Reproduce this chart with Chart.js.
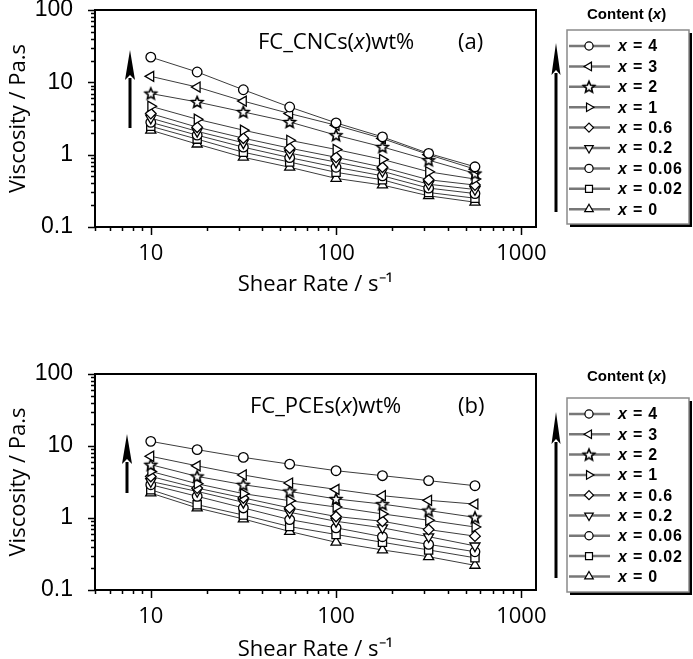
<!DOCTYPE html>
<html>
<head>
<meta charset="utf-8">
<script src="https://cdn.jsdelivr.net/npm/chart.js@4/dist/chart.umd.min.js"></script>
<style>
    html, body { margin: 0; padding: 0; background: #fff; }
    #wrap { position: relative; width: 693px; height: 659px; }
    canvas { position: absolute; left: 0; }
    #top { top: 0; }
    #bottom { top: 330px; }
</style>
</head>
<body>
<div id="wrap">
    <canvas id="top" width="693" height="330"></canvas>
    <canvas id="bottom" width="693" height="329"></canvas>
</div>
<script>
// shear rate points (s^-1)
const shearRates = [10, 17.8, 31.6, 56.2, 100, 178, 316, 562];
const contents = ["4", "3", "2", "1", "0.6", "0.2", "0.06", "0.02", "0"];
const xTickLabels = [10, 100, 1000];
const yTickLabels = [0.1, 1, 10, 100];

// (a) FC_CNCs viscosity, Pa.s
const cnc4 = [22.3, 13.9, 7.9, 4.56, 2.75, 1.76, 1.04, 0.68];
const cnc3 = [12.1, 8.6, 5.5, 3.7, 2.55, 1.67, 1.0, 0.63];
const cnc2 = [7.0, 5.35, 3.9, 2.83, 1.86, 1.28, 0.84, 0.55];
const cnc1 = [4.67, 3.09, 2.18, 1.58, 1.18, 0.86, 0.58, 0.46];
const cnc06 = [3.7, 2.4, 1.69, 1.23, 0.92, 0.67, 0.45, 0.38];
const cnc02 = [3.2, 2.1, 1.46, 1.05, 0.79, 0.59, 0.39, 0.33];
const cnc006 = [2.8, 1.86, 1.27, 0.91, 0.67, 0.51, 0.345, 0.29];
const cnc002 = [2.47, 1.64, 1.08, 0.79, 0.57, 0.45, 0.30, 0.25];
const cnc0 = [2.18, 1.4, 0.92, 0.67, 0.47, 0.38, 0.27, 0.22];

// (b) FC_PCEs viscosity, Pa.s
const pce4 = [11.6, 8.9, 6.95, 5.6, 4.54, 3.87, 3.3, 2.81];
const pce3 = [7.2, 5.3, 3.96, 3.06, 2.5, 2.04, 1.76, 1.56];
const pce2 = [5.5, 3.78, 2.9, 2.34, 1.84, 1.56, 1.27, 1.02];
const pce1 = [4.44, 2.99, 2.18, 1.74, 1.42, 1.14, 0.93, 0.75];
const pce06 = [3.78, 2.6, 1.9, 1.38, 1.05, 0.9, 0.69, 0.56];
const pce02 = [3.22, 2.34, 1.65, 1.2, 0.9, 0.73, 0.55, 0.41];
const pce006 = [2.9, 2.0, 1.38, 0.95, 0.73, 0.55, 0.43, 0.34];
const pce002 = [2.47, 1.53, 1.1, 0.76, 0.59, 0.46, 0.36, 0.28];
const pce0 = [2.22, 1.38, 0.97, 0.65, 0.46, 0.36, 0.29, 0.22];

const cncSeries = [cnc4, cnc3, cnc2, cnc1, cnc06, cnc02, cnc006, cnc002, cnc0];
const pceSeries = [pce4, pce3, pce2, pce1, pce06, pce02, pce006, pce002, pce0];

function starImage(r) {
    const c = document.createElement("canvas");
    const s = Math.ceil(r * 2 + 4);
    c.width = s;
    c.height = s;
    const g = c.getContext("2d");
    g.translate(s / 2, s / 2 + 0.5);
    g.beginPath();
    for (let i = 0; i < 10; i++) {
        const rad = i % 2 ? r * 0.45 : r;
        const a = -Math.PI / 2 + i * Math.PI / 5;
        g.lineTo(rad * Math.cos(a), rad * Math.sin(a));
    }
    g.closePath();
    g.fillStyle = "#fff";
    g.fill();
    g.lineWidth = 1.6;
    g.strokeStyle = "#000";
    g.stroke();
    return c;
}

const star = starImage(6);
const markers = [
    { style: "circle", rot: 0, r: 4.8 },
    { style: "triangle", rot: -90, r: 5.8 },
    { style: star, rot: 0, r: 6 },
    { style: "triangle", rot: 90, r: 5.8 },
    { style: "rectRot", rot: 0, r: 5.3 },
    { style: "triangle", rot: 180, r: 5.8 },
    { style: "circle", rot: 0, r: 4.8 },
    { style: "rect", rot: 0, r: 5.8 },
    { style: "triangle", rot: 0, r: 5.8 }
];

function isDecade(v) {
    const l = Math.log10(v);
    return Math.abs(l - Math.round(l)) < 1e-6;
}

function isMinor(v) {
    const s = v / Math.pow(10, Math.floor(Math.log10(v) + 1e-9));
    return Math.abs(s - Math.round(s)) < 1e-6;
}

function drawArrow(ctx, x, yBase, yTip, headLen, headW) {
    ctx.strokeStyle = "#000";
    ctx.fillStyle = "#000";
    ctx.lineWidth = 3;
    ctx.beginPath();
    ctx.moveTo(x, yBase);
    ctx.lineTo(x, yTip + headLen - 2);
    ctx.stroke();
    ctx.beginPath();
    ctx.moveTo(x, yTip);
    ctx.lineTo(x - headW / 2, yTip + headLen);
    ctx.lineTo(x, yTip + headLen - 5);
    ctx.lineTo(x + headW / 2, yTip + headLen);
    ctx.closePath();
    ctx.fill();
}

function drawMixed(ctx, parts, x, y) {
    // parts: [text, font]
    let cx = x;
    parts.forEach(([text, font]) => {
        ctx.font = font;
        ctx.fillText(text, cx, y);
        cx += ctx.measureText(text).width;
    });
}

const decor = {
    id: "decor",
    afterDraw(chart, args, o) {
        const { ctx, chartArea: a, scales: { x, y } } = chart;
        ctx.save();

        // ticks
        ctx.strokeStyle = "#000";
        ctx.lineWidth = 1.5;
        ctx.beginPath();
        x.ticks.forEach(t => {
            if (!isMinor(t.value)) return;
            const px = Math.round(x.getPixelForValue(t.value)) + 0.5;
            const len = isDecade(t.value) ? 8 : 4;
            ctx.moveTo(px, a.bottom);
            ctx.lineTo(px, a.bottom + len);
        });
        y.ticks.forEach(t => {
            if (!isMinor(t.value)) return;
            const py = Math.round(y.getPixelForValue(t.value)) + 0.5;
            const len = isDecade(t.value) ? 7 : 4;
            ctx.moveTo(a.left - len, py);
            ctx.lineTo(a.left, py);
        });
        ctx.stroke();

        // frame
        ctx.lineWidth = 2;
        ctx.strokeRect(a.left, a.top, a.right - a.left, a.bottom - a.top);

        // arrows
        drawArrow(ctx, o.arrowX, o.arrowBase, o.arrowTip, 30, 10);
        drawArrow(ctx, 556, o.legArrowBase, o.legArrowTip, 32, 9);

        // panel label
        ctx.fillStyle = "#000";
        ctx.textBaseline = "middle";
        ctx.textAlign = "left";
        drawMixed(ctx, [
            [o.name + "(", "22px 'Open Sans'"],
            ["x", "italic 22px 'Open Sans'"],
            [")wt%", "22px 'Open Sans'"]
        ], o.nameX, o.nameY);
        ctx.font = "22px 'Open Sans'";
        ctx.fillText(o.tag, 458, o.nameY);

        // legend
        const bx = 567, by = o.legTop, bw = 122, bh = o.legBottom - o.legTop;
        ctx.fillStyle = "#000";
        ctx.fillRect(bx + 3, by + 3, bw, bh);
        ctx.fillStyle = "#fff";
        ctx.fillRect(bx, by, bw, bh);
        ctx.strokeStyle = "#8a8a8a";
        ctx.lineWidth = 1.5;
        ctx.strokeRect(bx, by, bw, bh);

        ctx.fillStyle = "#000";
        ctx.textAlign = "left";
        drawMixed(ctx, [
            ["Content (", "bold 15px 'Liberation Sans'"],
            ["x", "bold italic 15px 'Liberation Sans'"],
            [")", "bold 15px 'Liberation Sans'"]
        ], 587, o.legTitleY);

        contents.forEach((c, i) => {
            const ly = o.legFirst + i * o.legStep;
            ctx.strokeStyle = "#777";
            ctx.lineWidth = 2.5;
            ctx.beginPath();
            ctx.moveTo(569, ly);
            ctx.lineTo(610, ly);
            ctx.stroke();
            const m = markers[i];
            ctx.fillStyle = "#fff";
            ctx.strokeStyle = "#000";
            ctx.lineWidth = 1.2;
            Chart.helpers.drawPoint(ctx, {
                pointStyle: m.style,
                rotation: m.rot,
                radius: m.r * 0.85,
                borderWidth: 1.2
            }, 589, ly);
            ctx.fillStyle = "#000";
            ctx.letterSpacing = "0.8px";
            drawMixed(ctx, [
                ["x", "bold italic 16px 'Liberation Sans'"],
                [" = " + c, "bold 16px 'Liberation Sans'"]
            ], 618, ly + 1);
            ctx.letterSpacing = "0px";
        });

        ctx.restore();
    }
};

function makeChart(id, series, opt) {
    const ctx = document.getElementById(id).getContext("2d");
    const datasets = series.map((vals, i) => ({
        label: "x = " + contents[i],
        data: vals.map((v, j) => ({ x: shearRates[j], y: v })),
        borderColor: "#3c3c3c",
        borderWidth: 1,
        pointStyle: markers[i].style,
        rotation: markers[i].rot,
        pointRadius: markers[i].r,
        pointBorderColor: "#000",
        pointBackgroundColor: "#fff",
        pointBorderWidth: 1.3,
        tension: 0
    }));

    return new Chart(ctx, {
        type: "line",
        data: { datasets: datasets },
        options: {
            responsive: false,
            animation: false,
            layout: { padding: { left: 0, right: 157, top: opt.plotTop, bottom: 0 } },
            plugins: {
                legend: { display: false },
                tooltip: { enabled: false },
                decor: opt
            },
            scales: {
                x: {
                    type: "logarithmic",
                    min: 5,
                    max: 1200,
                    afterFit(s) {
                        s.height = opt.xHeight;
                        s.paddingLeft = 0;
                        s.paddingRight = 0;
                    },
                    grid: { display: false },
                    border: { display: false },
                    ticks: {
                        autoSkip: false,
                        maxRotation: 0,
                        padding: 6,
                        color: "#000",
                        font: { family: "Open Sans", size: 22 },
                        callback: v => xTickLabels.some(t => Math.abs(t - v) < 1e-6) ? String(v) : ""
                    },
                    title: {
                        display: true,
                        text: "Shear Rate / s\u207B\u00B9",
                        color: "#000",
                        font: { family: "Open Sans", size: 22, lineHeight: 0.8 },
                        padding: { top: 0, bottom: opt.xTitlePad }
                    }
                },
                y: {
                    type: "logarithmic",
                    min: 0.1,
                    max: 100,
                    afterFit(s) {
                        s.width = 95;
                        s.paddingTop = 0;
                        s.paddingBottom = 0;
                    },
                    grid: { display: false },
                    border: { display: false },
                    ticks: {
                        autoSkip: false,
                        padding: 14,
                        color: "#000",
                        font: { family: "Liberation Sans", size: 23, lineHeight: 1 },
                        callback: v => yTickLabels.some(t => Math.abs(t - v) < 1e-9) ? String(v) : ""
                    },
                    title: {
                        display: true,
                        text: "Viscosity / Pa.s",
                        color: "#000",
                        font: { family: "Open Sans", size: 22, lineHeight: 1.2 },
                        padding: { top: 6, bottom: 0 }
                    }
                }
            }
        },
        plugins: [decor]
    });
}

makeChart("top", cncSeries, {
    plotTop: 10,
    xHeight: 103,
    xTitlePad: 36,
    name: "FC_CNCs",
    tag: "(a)",
    nameX: 258,
    nameY: 43,
    arrowX: 130,
    arrowBase: 128,
    arrowTip: 50,
    legArrowBase: 212,
    legArrowTip: 43,
    legTop: 30,
    legBottom: 224,
    legTitleY: 15,
    legFirst: 46,
    legStep: 20.4
});

makeChart("bottom", pceSeries, {
    plotTop: 44,
    xHeight: 69,
    xTitlePad: 0,
    name: "FC_PCEs",
    tag: "(b)",
    nameX: 250,
    nameY: 77,
    arrowX: 127,
    arrowBase: 163,
    arrowTip: 104,
    legArrowBase: 248,
    legArrowTip: 82,
    legTop: 68,
    legBottom: 262,
    legTitleY: 47,
    legFirst: 84,
    legStep: 20.3
});
</script>
</body>
</html>
